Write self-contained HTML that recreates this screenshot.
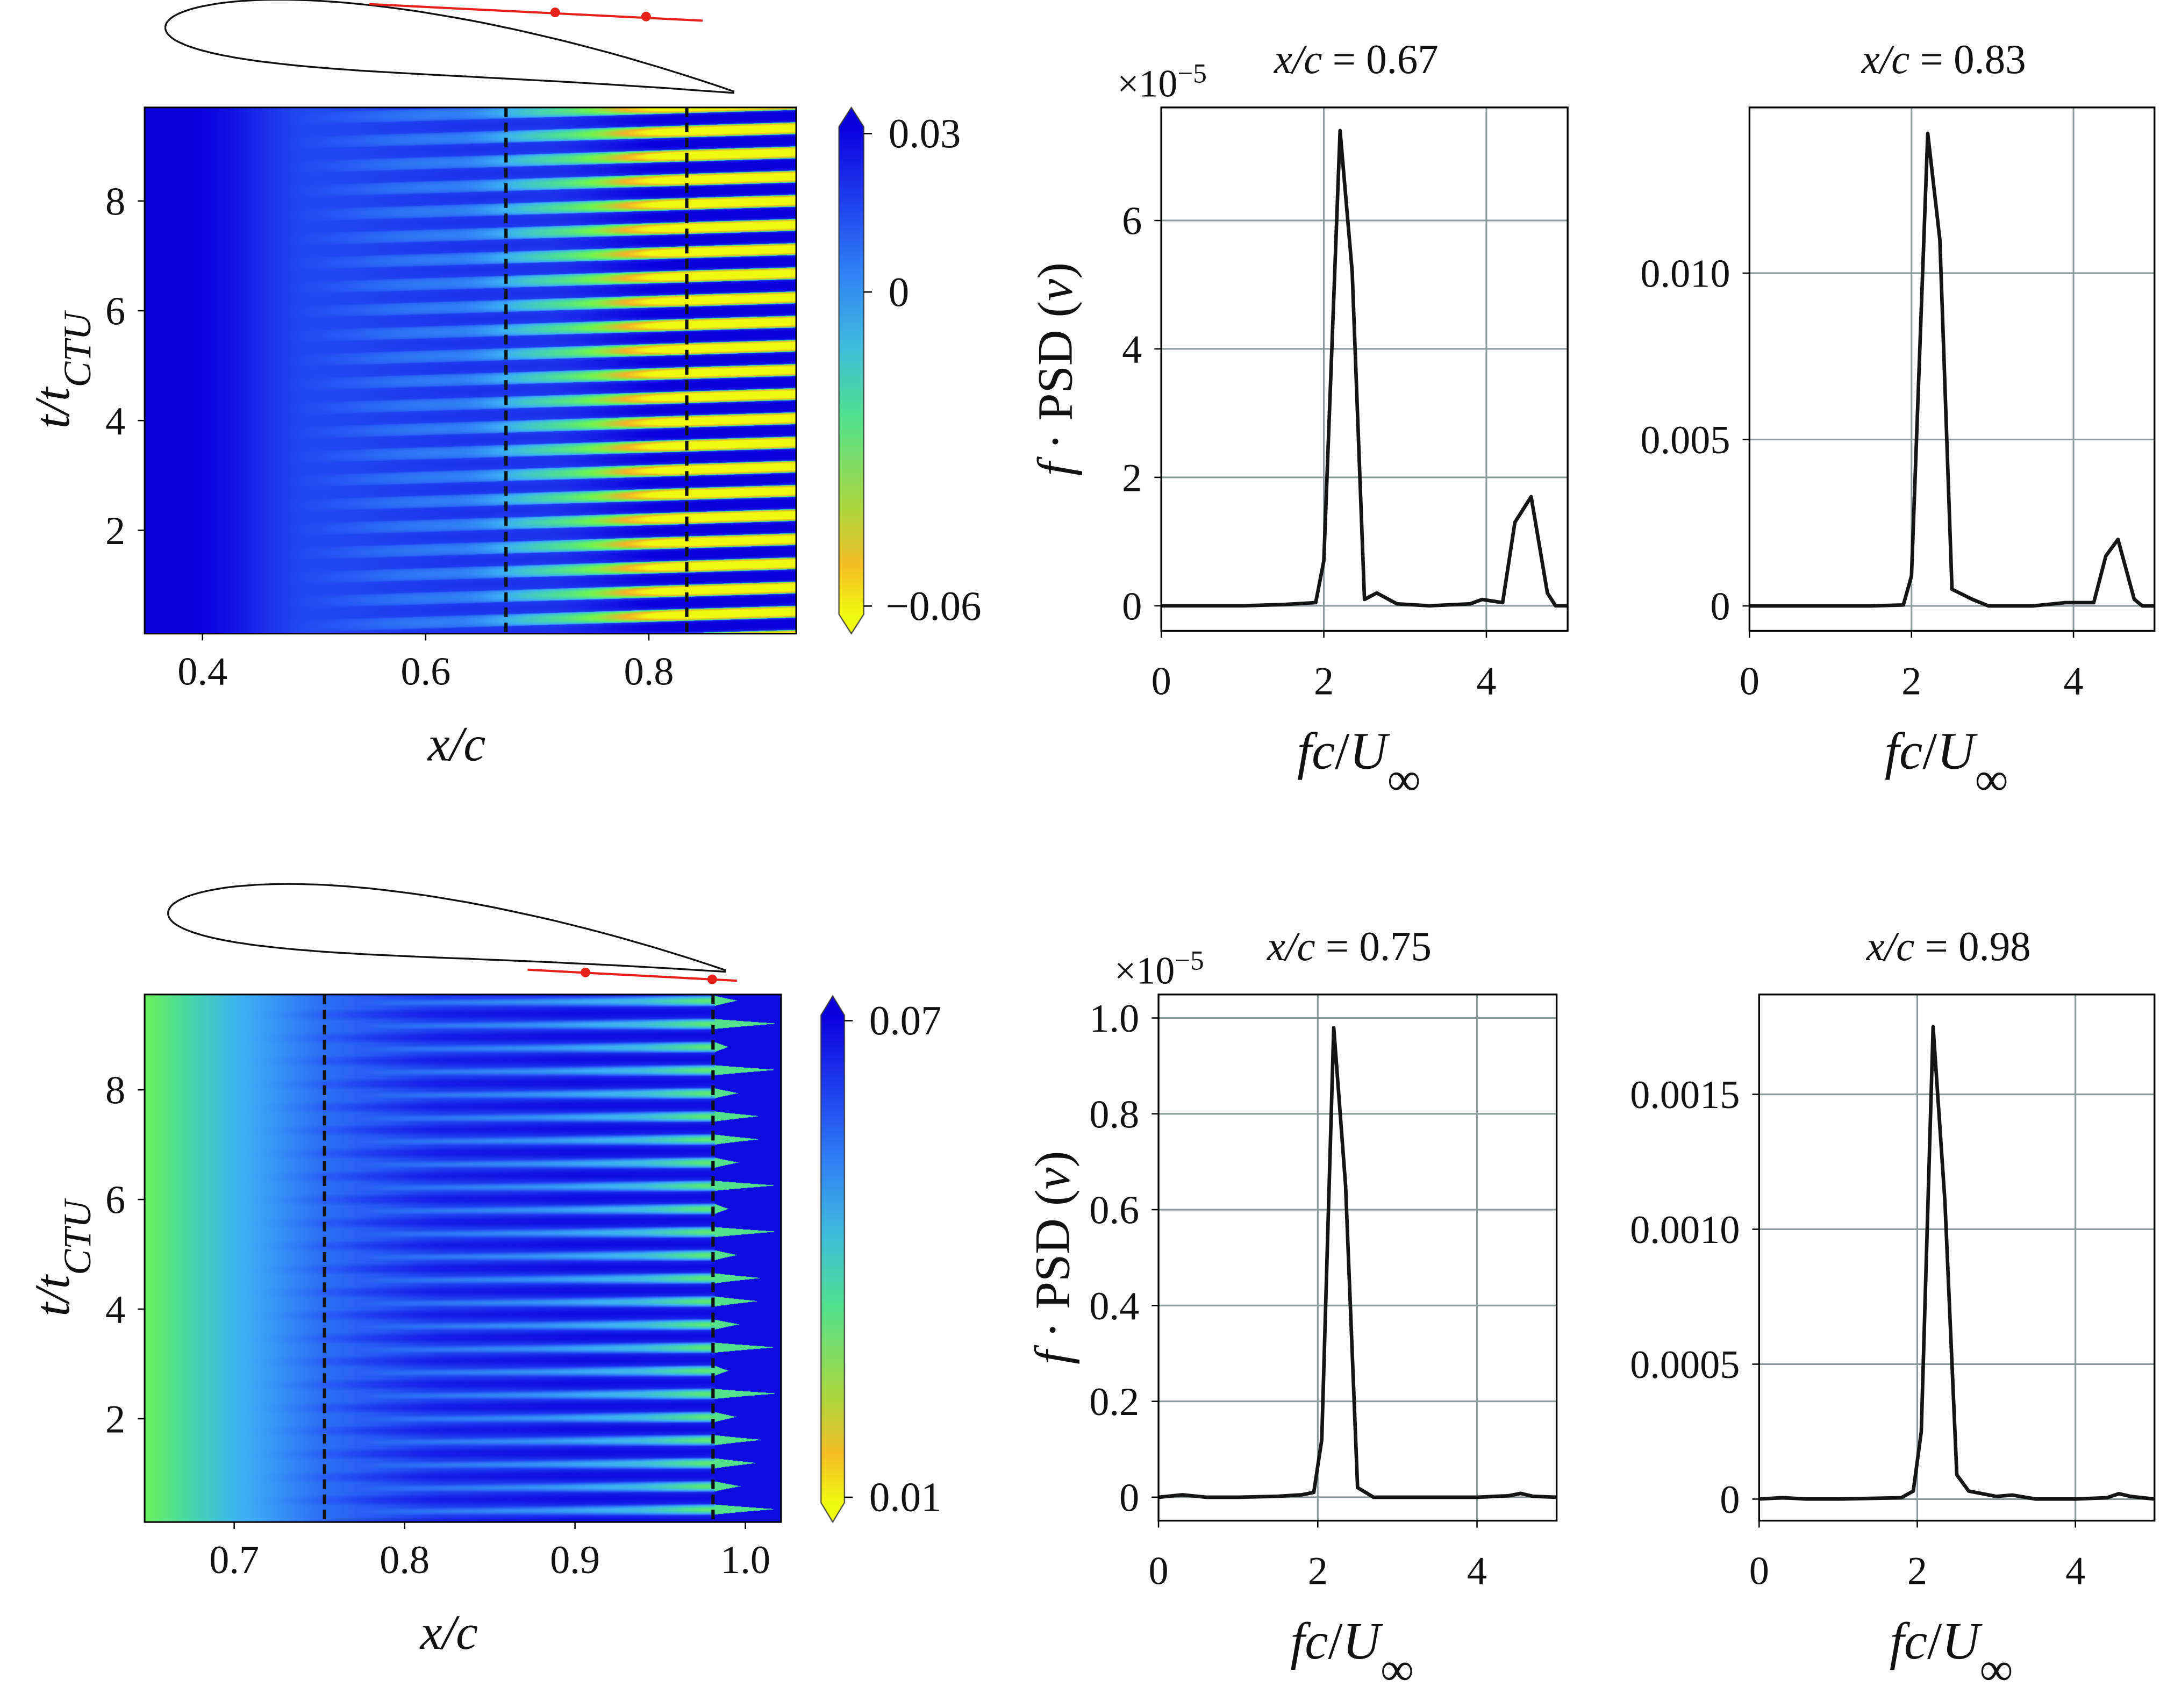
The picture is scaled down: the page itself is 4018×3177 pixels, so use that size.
<!DOCTYPE html>
<html><head><meta charset="utf-8">
<style>
html,body{margin:0;padding:0;background:#fff;}
#wrap{position:relative;width:4018px;height:3177px;overflow:hidden;}
canvas,svg{position:absolute;left:0;top:0;}
text{font-family:"Liberation Serif","Times New Roman",serif;fill:#111;}
</style></head>
<body>
<div id="wrap">
<canvas id="cv" width="4018" height="3177"></canvas>
<svg id="sv" width="4018" height="3177" viewBox="0 0 1568 1240" preserveAspectRatio="none"></svg>
</div>
<script>
// ---- PSD data ----
const freqA = [0,0.5,1,1.5,1.9,2.0,2.2,2.35,2.5,2.65,2.9,3.3,3.8,3.95,4.2,4.35,4.55,4.75,4.85,5.0];
const psdA  = [0,0,0,0.02,0.05,0.7,7.4,5.2,0.1,0.2,0.03,0.0,0.03,0.1,0.05,1.3,1.7,0.2,0,0];
const freqB = [0,0.5,1,1.5,1.9,2.0,2.2,2.35,2.5,2.75,2.95,3.5,3.9,4.1,4.25,4.4,4.55,4.75,4.85,5.0];
const psdB  = [0,0,0,0,0.00003,0.0009,0.0142,0.0110,0.0005,0.0002,0,0,0.0001,0.0001,0.0001,0.0015,0.0020,0.0002,0,0];
const freqC = [0,0.3,0.6,1,1.5,1.8,1.95,2.05,2.2,2.35,2.5,2.7,3,3.5,4,4.4,4.55,4.7,5];
const psdC  = [0,0.005,0,0,0.002,0.005,0.01,0.12,0.98,0.65,0.02,0,0,0,0,0.003,0.008,0.002,0];
const freqD = [0,0.3,0.6,1,1.5,1.8,1.95,2.05,2.2,2.35,2.5,2.65,3,3.2,3.5,4,4.4,4.55,4.7,5];
const psdD  = [0,0.000005,0,0,0.000003,0.000005,0.00003,0.00025,0.00175,0.0011,0.00009,0.00003,0.00001,0.000015,0,0,0.000005,0.00002,0.00001,0];
const ticksA = [0,2,4,6]; const ticksB=[0,0.005,0.010]; const ticksBL=['0','0.005','0.010'];
const ticksC = [0,0.2,0.4,0.6,0.8,1.0]; const ticksCL=['0','0.2','0.4','0.6','0.8','1.0'];
const ticksD = [0,0.0005,0.0010,0.0015]; const ticksDL=['0','0.0005','0.0010','0.0015'];
const xTicks = [0,2,4];

const NS='http://www.w3.org/2000/svg';
const sv=document.getElementById('sv');
function el(tag,attrs,parent,txt){const e=document.createElementNS(NS,tag);for(const k in attrs)e.setAttribute(k,attrs[k]);if(txt!==undefined)e.textContent=txt;(parent||sv).appendChild(e);return e;}

// ---- colormap (0 = yellow/low, 1 = dark blue/high) ----
const stops=[[0,[240,250,16]],[0.12,[245,178,40]],[0.3,[110,245,80]],[0.45,[70,215,170]],[0.6,[60,175,245]],[0.78,[40,95,245]],[0.9,[25,40,235]],[1,[10,0,222]]];
function cmap(t){t=Math.max(0,Math.min(1,t));for(let i=1;i<stops.length;i++){if(t<=stops[i][0]){const a=stops[i-1],b=stops[i];const f=(t-a[0])/(b[0]-a[0]);return [0,1,2].map(k=>a[1][k]+(b[1][k]-a[1][k])*f);}}return stops[stops.length-1][1];}

const cv=document.getElementById('cv');const ctx=cv.getContext('2d');
const SX=4018/1568, SY=3177/1240;
function fillField(x0,y0,x1,y1,xmin,xmax,tmin,tmax,field){
  const px0=Math.round(x0*SX),py0=Math.round(y0*SY),px1=Math.round(x1*SX),py1=Math.round(y1*SY);
  const w=px1-px0,h=py1-py0;const img=ctx.createImageData(w,h);
  for(let j=0;j<h;j++){const t=tmax-(j/h)*(tmax-tmin);
    for(let i=0;i<w;i++){const x=xmin+(i/w)*(xmax-xmin);const c=cmap(field(x,t));const o=(j*w+i)*4;
      img.data[o]=c[0];img.data[o+1]=c[1];img.data[o+2]=c[2];img.data[o+3]=255;}}
  ctx.putImageData(img,px0,py0);
}
function clamp(v,a,b){return Math.max(a,Math.min(b,v));}
function sstep(e0,e1,x){const t=clamp((x-e0)/(e1-e0),0,1);return t*t*(3-2*t);}
function lerpPts(xs,vs,x){if(x<=xs[0])return vs[0];for(let i=1;i<xs.length;i++){if(x<=xs[i]){const f=(x-xs[i-1])/(xs[i]-xs[i-1]);return vs[i-1]+(vs[i]-vs[i-1])*f;}}return vs[vs.length-1];}
function fieldTop(x,t){
  const base = 1.0 - 0.17*sstep(0.39,0.5,x);
  const P=0.44;const ph=(t - 0.6*(x-0.6))/P;const s=Math.sin(2*Math.PI*ph);
  const D = 0.12*sstep(0.47,0.62,x) + 0.35*sstep(0.62,0.75,x) + 0.5*sstep(0.72,0.84,x);
  const U = 0.05*sstep(0.5,0.65,x) + 0.15*sstep(0.7,0.84,x);
  let v;
  if(s>0){v=base+U*Math.pow(s,0.4);}
  else{v=base-D*Math.pow(-s,0.35);}
  return v;
}
function fieldBot(x,t){
  const base = lerpPts([0.65,0.7,0.75,0.82,0.9],[0.33,0.58,0.74,0.86,0.9],x);
  const P=0.42;const ph=(t-0.2*(x-0.8))/P;const s=Math.sin(2*Math.PI*ph);
  let v = base + 0.07*sstep(0.7,0.8,x)*Math.max(0,s);
  const L = lerpPts([0.75,0.88,0.94,0.975],[0.8,0.66,0.55,0.36],x);
  const p = 3.0 - 2.2*sstep(0.75,0.97,x);
  const m = Math.pow(Math.max(0,-s),p)*sstep(0.7,0.78,x);
  v = v - Math.max(0,v-L)*m;
  if(x>=0.982){
    const k=Math.floor(ph);const len=0.99+0.03*(0.5+0.5*Math.sin(k*2.7+1));
    const f=clamp(1-(x-0.982)/(len-0.982),0,1);
    const w=Math.max(0,-s);
    v = (w > 1-0.8*f*f) ? 0.4 : 0.97;
  }
  return v;
}
fillField(105,78,578,460,0.35,0.932,0.12,9.7,fieldTop);
fillField(105,722,567,1105,0.6475,1.021,0.12,9.7,fieldBot);
// colorbars
function colorbar(x0,y0,x1,y1){
  const px0=x0*SX,px1=x1*SX,py0=y0*SY,py1=y1*SY,tri=14*SY;
  const g=ctx.createLinearGradient(0,py0,0,py1);
  for(const s of stops){const c=cmap(1-s[0]);g.addColorStop(s[0],`rgb(${c[0]|0},${c[1]|0},${c[2]|0})`);}
  ctx.fillStyle=g;ctx.beginPath();ctx.moveTo((px0+px1)/2,py0-tri);ctx.lineTo(px1,py0);ctx.lineTo(px1,py1);ctx.lineTo((px0+px1)/2,py1+tri);ctx.lineTo(px0,py1);ctx.lineTo(px0,py0);ctx.closePath();ctx.fill();
  ctx.strokeStyle='#333';ctx.lineWidth=2;ctx.stroke();
}
colorbar(609,92,627,446);
colorbar(596,737,613,1091);

// ---- SVG heatmap frames ----
function heatAxes(name,x0,y0,x1,y1,xticks,xlabels,xfn,yticks,yfn,dash,xlab,ylabX){
  const g=el('g',{});
  el('rect',{x:x0,y:y0,width:x1-x0,height:y1-y0,fill:'none',stroke:'#000','stroke-width':1.2},g);
  xticks.forEach((v,i)=>{const x=xfn(v);el('line',{x1:x,x2:x,y1:y1,y2:y1+5,stroke:'#000'},g);const t=el('text',{x:x,y:y1+37,'font-size':29,'text-anchor':'middle'},g,xlabels[i]);});
  yticks.forEach(v=>{const y=yfn(v);el('line',{x1:x0-5,x2:x0,y1:y,y2:y,stroke:'#000'},g);el('text',{x:x0-14,y:y+10,'font-size':29,'text-anchor':'end'},g,String(v));});
  dash.forEach(v=>{const x=xfn(v);const l=el('line',{x1:x,x2:x,y1:y0,y2:y1,stroke:'#111','stroke-width':2.4,'stroke-dasharray':'7,4'},g);});
  const xl=el('text',{x:(x0+x1)/2-10,y:y1+92,'font-size':36,'font-style':'italic','text-anchor':'middle'},g,xlab);
  
  const yl=el('text',{transform:`translate(${ylabX},${(y0+y1)/2}) rotate(-90)`,'font-size':36,'font-style':'italic','text-anchor':'middle'},g);
  
  el('tspan',{},yl,'t/t');el('tspan',{'baseline-shift':'sub','font-size':28},yl,'CTU');
}
const hx1=v=>147+(v-0.4)*810, hy1=v=>385-(v-2)*39.85;
heatAxes('top-heatmap',105,78,578,460,[0.4,0.6,0.8],['0.4','0.6','0.8'],hx1,[2,4,6,8],hy1,[0.672,0.834],'x/c',50);
const hx2=v=>170+(v-0.7)*1237, hy2=v=>1030-(v-2)*39.8;
heatAxes('bottom-heatmap',105,722,567,1105,[0.7,0.8,0.9,1.0],['0.7','0.8','0.9','1.0'],hx2,[2,4,6,8],hy2,[0.753,0.981],'x/c',50);
// colorbar labels
[[0.03,97],[0,212]].forEach(([v,y])=>{el('line',{x1:627,x2:633,y1:y,y2:y,stroke:'#000'});el('text',{x:645,y:y+10,'font-size':30},sv,v===0?'0':'0.03');});
el('line',{x1:627,x2:633,y1:440,y2:440,stroke:'#000'});el('text',{x:643,y:450,'font-size':30},sv,'\u22120.06');
el('line',{x1:613,x2:619,y1:741,y2:741,stroke:'#000'});el('text',{x:631,y:751,'font-size':30},sv,'0.07');
el('line',{x1:613,x2:619,y1:1087,y2:1087,stroke:'#000'});el('text',{x:631,y:1097,'font-size':30},sv,'0.01');

// airfoils
function airfoil(name,le,te,thick,camb,red,dots){
  const g=el('g',{});
  const L=te[0]-le[0];let up='',lo='';
  for(let i=0;i<=60;i++){const s=i/60;const xx=s*s;const th=thick*(2.969*Math.sqrt(xx)-1.26*xx-3.516*xx*xx+2.843*xx*xx*xx-1.015*xx*xx*xx*xx)/1.4;
    const cy=camb*4*xx*(1-xx);const bx=le[0]+xx*L;const by=le[1]+(te[1]-le[1])*xx;
    up+=(i?'L':'M')+bx.toFixed(1)+','+(by-cy-th).toFixed(1);lo+=(i?'L':'M')+bx.toFixed(1)+','+(by-cy+th).toFixed(1);}
  el('path',{d:up,fill:'none',stroke:'#111','stroke-width':1.3},g);el('path',{d:lo,fill:'none',stroke:'#111','stroke-width':1.3},g);
  el('line',{x1:red[0],y1:red[1],x2:red[2],y2:red[3],stroke:'#e8201a','stroke-width':1.6},g);
  dots.forEach(d=>el('circle',{cx:d[0],cy:d[1],r:3.5,fill:'#e8201a'},g));
}
airfoil('top-airfoil',[120,20],[533,67],34,10,[268,3,510,15],[[403,9],[469,12]]);
airfoil('bottom-airfoil',[122,663],[527,705],34,10,[383,704,535,712],[[425,706],[517,711]]);

// ---- PSD panels ----
function psd(name,ax,freq,vals,yticks,ylabels,title,mult,ylabel){
  const g=el('g',{});
  const sx=v=>ax.x0+(v-0)/(5)*(ax.x1-ax.x0);
  const sy=v=>ax.y1-(v-ax.ymin)/(ax.ymax-ax.ymin)*(ax.y1-ax.y0);
  xTicks.forEach(v=>{const x=sx(v);if(v>0)el('line',{x1:x,x2:x,y1:ax.y0,y2:ax.y1,stroke:'#8a9a9a','stroke-width':1.2},g);
    el('line',{x1:x,x2:x,y1:ax.y1,y2:ax.y1+5,stroke:'#000'},g);el('text',{x:x,y:ax.y1+46,'font-size':29,'text-anchor':'middle'},g,String(v));});
  yticks.forEach((v,i)=>{const y=sy(v);el('line',{x1:ax.x0,x2:ax.x1,y1:y,y2:y,stroke:'#8a9a9a','stroke-width':1.2},g);
    el('line',{x1:ax.x0-5,x2:ax.x0,y1:y,y2:y,stroke:'#000'},g);el('text',{x:ax.x0-14,y:y+10,'font-size':29,'text-anchor':'end'},g,ylabels[i]);});
  let d='';freq.forEach((f,i)=>{d+=(i?'L':'M')+sx(f).toFixed(1)+','+sy(vals[i]).toFixed(1);});
  const p=el('path',{d:d,fill:'none',stroke:'#151515','stroke-width':2.6,'stroke-linejoin':'round'},g);
  
  el('rect',{x:ax.x0,y:ax.y0,width:ax.x1-ax.x0,height:ax.y1-ax.y0,fill:'none',stroke:'#000','stroke-width':1.3},g);
  const tt=el('text',{x:(ax.x0+ax.x1)/2-6,y:ax.y0-25,'font-size':30,'text-anchor':'middle'},g);
  
  el('tspan',{'font-style':'italic'},tt,'x/c');el('tspan',{},tt,' = '+title);
  if(mult){const m=el('text',{x:ax.x0-32,y:ax.y0-8,'font-size':28},g);el('tspan',{},m,'\u00d710');el('tspan',{dy:-10,'font-size':20},m,'\u22125');}
  const xl=el('text',{x:(ax.x0+ax.x1)/2-4,y:ax.y1+100,'font-size':38,'text-anchor':'middle'},g);
  
  el('tspan',{'font-style':'italic'},xl,'fc');el('tspan',{},xl,'/');el('tspan',{'font-style':'italic'},xl,'U');el('tspan',{'baseline-shift':'sub','font-size':34},xl,'\u221e');
  if(ylabel){const yl=el('text',{transform:`translate(${ylabel},${(ax.y0+ax.y1)/2}) rotate(-90)`,'font-size':36,'text-anchor':'middle'},g);
    
    el('tspan',{'font-style':'italic'},yl,'f');el('tspan',{},yl,' \u00b7 PSD (');el('tspan',{'font-style':'italic'},yl,'v');el('tspan',{},yl,')');}
}
psd('psd-067',{x0:843,x1:1138,y0:78,y1:458,ymin:-0.39,ymax:7.76},freqA,psdA,ticksA,ticksA.map(String),'0.67',true,778);
psd('psd-083',{x0:1270,x1:1564,y0:78,y1:458,ymin:-0.00075,ymax:0.01498},freqB,psdB,ticksB,ticksBL,'0.83',false,0);
psd('psd-075',{x0:841,x1:1130,y0:722,y1:1104,ymin:-0.049,ymax:1.049},freqC,psdC,ticksC,ticksCL,'0.75',true,776);
psd('psd-098',{x0:1277,x1:1564,y0:722,y1:1104,ymin:-0.00008,ymax:0.00187},freqD,psdD,ticksD,ticksDL,'0.98',false,0);
</script>
</body></html>
